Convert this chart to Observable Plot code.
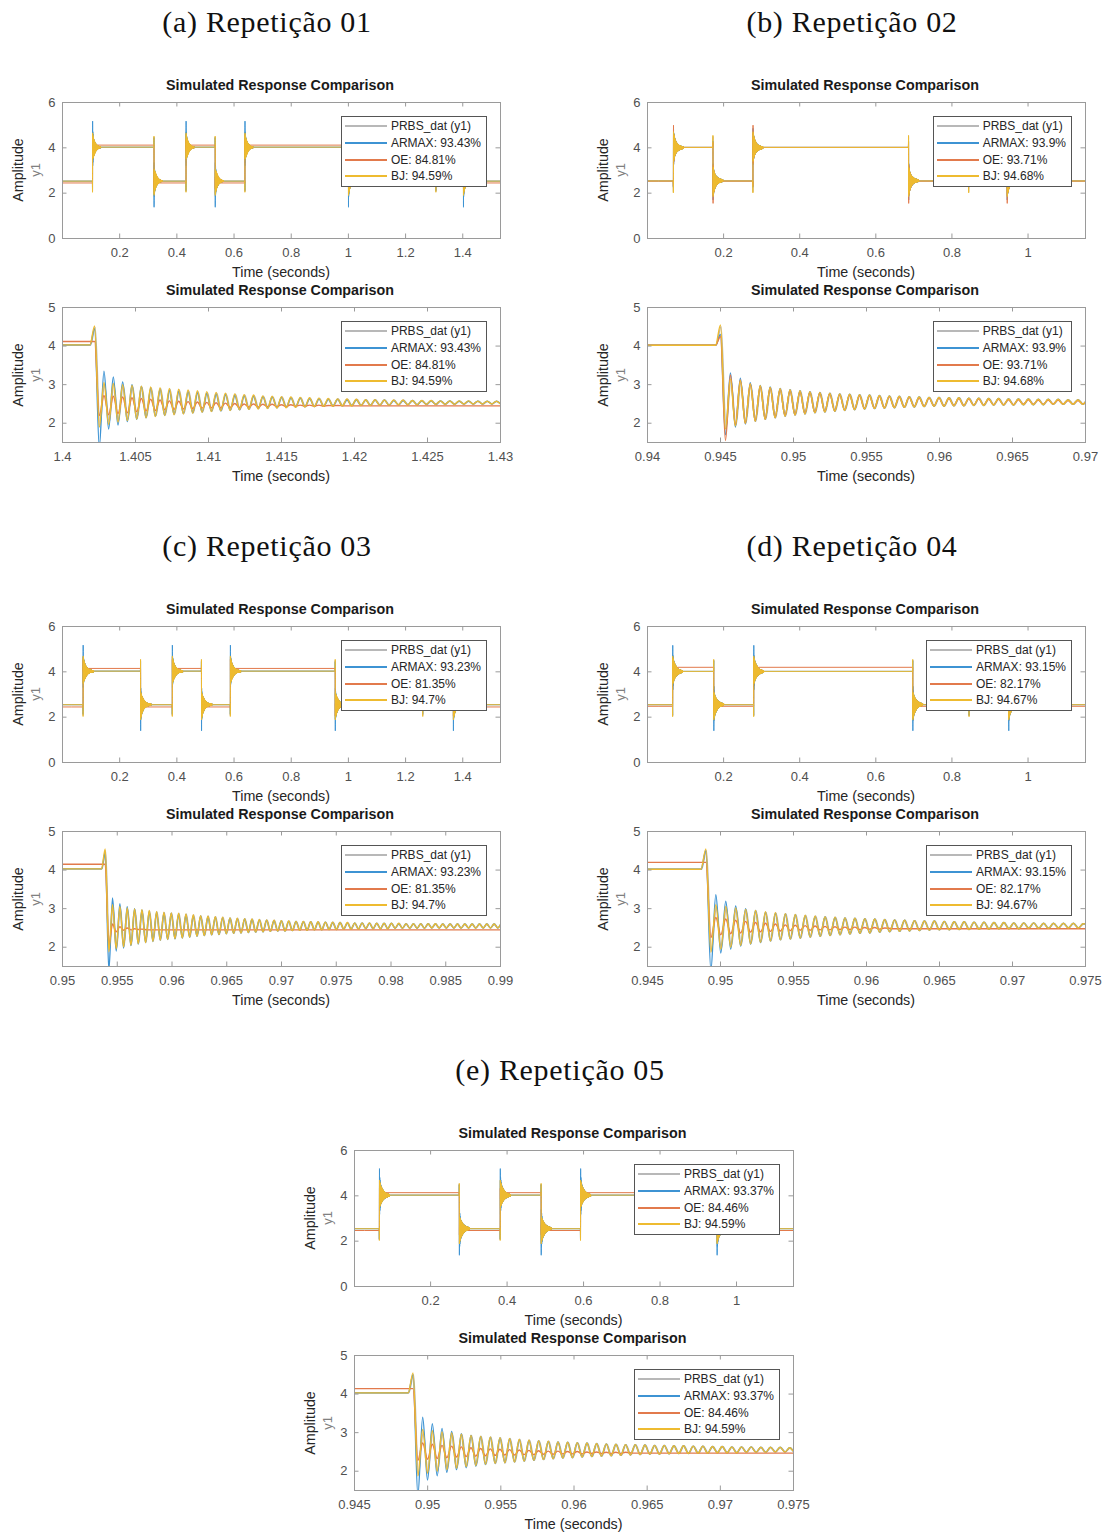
<!DOCTYPE html>
<html><head><meta charset="utf-8">
<script src="https://cdn.jsdelivr.net/npm/d3@7"></script>
<script src="https://cdn.jsdelivr.net/npm/@observablehq/plot@0.6"></script>
<style>
body{margin:0;background:#fff;}
#root{position:relative;width:1110px;height:1533px;background:#fff;overflow:hidden;font-family:"Liberation Sans",Arial,sans-serif;}
.abs{position:absolute;white-space:nowrap;line-height:1;}
.c{transform:translate(-50%,-50%);}
.rot{transform:translate(-50%,-50%) rotate(-90deg);}
.head{font-family:"Liberation Serif",serif;font-size:30px;letter-spacing:0.7px;color:#111;}
.ttl{font-weight:bold;font-size:14.3px;color:#1a1a1a;}
.xl{font-size:14.3px;color:#262626;}
.amp{font-size:14.3px;color:#262626;}
.yone{font-size:13px;color:#808080;}
.leg{position:absolute;border:1px solid #555;background:#fff;padding:1px 5px 1px 3px;font-size:12px;color:#262626;line-height:1;}
.leg .row{display:flex;align-items:center;height:16.7px;white-space:nowrap;}
.leg .sw{display:inline-block;width:42px;height:2px;margin-right:4px;}
</style></head><body><div id="root"></div><script>
// ---------- text ----------
const headings = ["(a) Repetição 01","(b) Repetição 02","(c) Repetição 03","(d) Repetição 04","(e) Repetição 05"];
const panelTitle = "Simulated Response Comparison";
const xLabel = "Time (seconds)";
const yLabel = "Amplitude";
const ySubLabel = "y1";
const seriesNames = ["PRBS_dat (y1)","ARMAX","OE","BJ"];
const seriesColors = ["#b8b8b8","#3d93d3","#e27a4c","#eebb30"];
const fitARMAX = ["93.43","93.9","93.23","93.15","93.37"];
const fitOE = ["84.81","93.71","81.35","82.17","84.46"];
const fitBJ = ["94.59","94.68","94.7","94.67","94.59"];

// ---------- axes ----------
const overviewX = [[0,1.532],[0,1.151],[0,1.532],[0,1.151],[0.001,1.149]];
const zoomX = [[1.4,1.43],[0.94,0.97],[0.95,0.99],[0.945,0.975],[0.945,0.975]];
const overviewTicksLong = [0.2,0.4,0.6,0.8,1,1.2,1.4];
const overviewTicksShort = [0.2,0.4,0.6,0.8,1];
const zoomTicks01 = [1.4,1.405,1.41,1.415,1.42,1.425,1.43];
const zoomTicks02 = [0.94,0.945,0.95,0.955,0.96,0.965,0.97];
const zoomTicks03 = [0.95,0.955,0.96,0.965,0.97,0.975,0.98,0.985,0.99];
const zoomTicks04 = [0.945,0.95,0.955,0.96,0.965,0.97,0.975];
const zoomTicks05 = [0.945,0.95,0.955,0.96,0.965,0.97,0.975];
const yDomainTop = [0,6], yTicksTop = [0,2,4,6];
const yDomainZoom = [1.5,5], yTicksZoom = [2,3,4,5];

// ---------- signal data (series order: PRBS_dat, ARMAX, OE, BJ) ----------
const switches01 = [0.105,0.32,0.432,0.534,0.638,1.0,1.306,1.4022];
const switches02 = [0.068,0.172,0.277,0.686,0.844,0.945];
const switches03 = [0.072,0.273,0.384,0.486,0.587,0.9539,1.26,1.367];
const switches04 = [0.066,0.174,0.279,0.697,0.845,0.949];
const switches05 = [0.066,0.275,0.382,0.489,0.592,0.949];
const periods = [0.00064,0.00068,0.00067,0.00068,0.00066];
const seriesLag = [0.00004,0,0,0];

const low01 = [2.53,2.53,2.45,2.53], high01 = [4.02,4.03,4.12,4.03], bump01 = [4.48,4.45,4.12,4.52];
const low02 = [2.54,2.54,2.53,2.54], high02 = [4.02,4.02,4.02,4.02], bump02 = [4.5,4.3,4.25,4.55];
const low03 = [2.55,2.55,2.45,2.55], high03 = [4.03,4.03,4.15,4.03], bump03 = [4.5,4.45,4.15,4.55];
const low04 = [2.55,2.55,2.48,2.55], high04 = [4.02,4.02,4.2,4.02], bump04 = [4.5,4.5,4.2,4.55];
const low05 = [2.55,2.55,2.47,2.55], high05 = [4.03,4.03,4.14,4.03], bump05 = [4.5,4.5,4.14,4.55];

const peaks01 = [
 [3.0,3.0,2.98,2.96,2.94,2.92,2.9,2.88,2.86,2.84,2.82,2.8,2.78,2.76,2.75,2.73,2.72,2.7,2.69,2.68,2.67,2.66,2.65,2.64,2.63,2.63,2.62,2.62,2.61,2.61,2.6,2.6,2.6,2.59,2.59,2.59,2.58,2.58,2.58,2.58,2.58,2.57,2.57,2.57],
 [3.35,3.2,3.07,3.0,2.95,2.91,2.88,2.85,2.83,2.81,2.79,2.77,2.75,2.74,2.72,2.71,2.7,2.69,2.68,2.67,2.66,2.65,2.64,2.63,2.62,2.62,2.61,2.61,2.6,2.6,2.6,2.59,2.59,2.59,2.58,2.58,2.58,2.58,2.57,2.57,2.57,2.57,2.57,2.56],
 [2.72,2.7,2.68,2.66,2.64,2.62,2.6,2.58,2.57,2.56,2.55,2.54,2.53,2.52,2.51,2.5,2.5,2.49,2.49,2.48,2.48,2.47,2.47,2.47,2.46,2.46],
 [3.05,3.03,3.0,2.98,2.96,2.94,2.92,2.9,2.88,2.86,2.84,2.82,2.8,2.78,2.76,2.74,2.73,2.71,2.7,2.69,2.68,2.67,2.66,2.65,2.64,2.63,2.63,2.62,2.61,2.61,2.6,2.6,2.6,2.59,2.59,2.59,2.58,2.58,2.58,2.58,2.57,2.57,2.57,2.57]
];
const troughs01 = [
 [1.95,2.02,2.06,2.1,2.13,2.16,2.19,2.21,2.23,2.25,2.27,2.29,2.31,2.32,2.34,2.35,2.36,2.38,2.39,2.4,2.41,2.42,2.42,2.43,2.44,2.44,2.45,2.45,2.46,2.46,2.47,2.47,2.47,2.48,2.48,2.48,2.48,2.49,2.49,2.49,2.49,2.49,2.5,2.5],
 [1.38,1.85,1.95,2.04,2.1,2.14,2.18,2.2,2.23,2.25,2.27,2.29,2.31,2.32,2.34,2.35,2.37,2.38,2.39,2.4,2.41,2.42,2.43,2.43,2.44,2.45,2.45,2.46,2.46,2.47,2.47,2.47,2.48,2.48,2.48,2.49,2.49,2.49,2.49,2.5,2.5,2.5,2.5,2.5],
 [2.2,2.22,2.25,2.27,2.3,2.32,2.33,2.35,2.36,2.37,2.38,2.39,2.4,2.4,2.41,2.41,2.42,2.42,2.43,2.43,2.43,2.44,2.44,2.44,2.44,2.45],
 [1.9,1.97,2.03,2.07,2.11,2.14,2.17,2.2,2.22,2.24,2.26,2.28,2.3,2.32,2.33,2.35,2.36,2.37,2.38,2.39,2.4,2.41,2.42,2.43,2.44,2.44,2.45,2.45,2.46,2.46,2.47,2.47,2.48,2.48,2.48,2.49,2.49,2.49,2.49,2.5,2.5,2.5,2.5,2.5]
];
const peaks02 = [
 [3.1,3.05,3.0,2.96,2.93,2.9,2.87,2.84,2.82,2.8,2.78,2.76,2.75,2.74,2.73,2.72,2.71,2.7,2.69,2.68,2.67,2.67,2.66,2.66,2.65,2.65,2.64,2.64,2.63,2.63,2.63,2.62,2.62,2.62,2.61,2.61,2.61,2.6],
 [3.3,3.17,3.05,2.98,2.94,2.9,2.87,2.84,2.82,2.8,2.78,2.76,2.75,2.74,2.73,2.72,2.71,2.7,2.69,2.68,2.67,2.67,2.66,2.66,2.65,2.65,2.64,2.64,2.63,2.63,2.63,2.62,2.62,2.62,2.61,2.61,2.61,2.6],
 [3.25,3.12,3.02,2.96,2.92,2.88,2.85,2.82,2.8,2.78,2.76,2.74,2.73,2.72,2.71,2.7,2.69,2.68,2.67,2.66,2.65,2.65,2.64,2.64,2.63,2.63,2.62,2.62,2.61,2.61,2.61,2.6,2.6,2.6,2.59,2.59,2.59,2.58],
 [3.15,3.1,3.02,2.97,2.93,2.9,2.87,2.84,2.82,2.8,2.78,2.76,2.75,2.74,2.73,2.72,2.71,2.7,2.69,2.68,2.67,2.67,2.66,2.66,2.65,2.65,2.64,2.64,2.63,2.63,2.63,2.62,2.62,2.62,2.61,2.61,2.61,2.6]
];
const troughs02 = [
 [1.9,1.95,2.0,2.05,2.1,2.14,2.18,2.21,2.24,2.27,2.29,2.31,2.33,2.35,2.37,2.38,2.39,2.4,2.41,2.42,2.43,2.44,2.44,2.45,2.45,2.46,2.46,2.47,2.47,2.47,2.48,2.48,2.48,2.49,2.49,2.49,2.49,2.5],
 [1.7,1.9,1.98,2.05,2.1,2.14,2.18,2.21,2.24,2.27,2.29,2.31,2.33,2.35,2.37,2.38,2.39,2.4,2.41,2.42,2.43,2.44,2.44,2.45,2.45,2.46,2.46,2.47,2.47,2.47,2.48,2.48,2.48,2.49,2.49,2.49,2.49,2.5],
 [1.55,1.95,2.0,2.06,2.11,2.15,2.19,2.22,2.25,2.28,2.3,2.32,2.34,2.36,2.38,2.39,2.4,2.41,2.42,2.43,2.44,2.45,2.45,2.46,2.46,2.47,2.47,2.48,2.48,2.48,2.49,2.49,2.49,2.5,2.5,2.5,2.5,2.5],
 [1.85,1.93,2.0,2.05,2.1,2.14,2.18,2.21,2.24,2.27,2.29,2.31,2.33,2.35,2.37,2.38,2.39,2.4,2.41,2.42,2.43,2.44,2.44,2.45,2.45,2.46,2.46,2.47,2.47,2.47,2.48,2.48,2.48,2.49,2.49,2.49,2.49,2.5]
];
const peaks03 = [
 [3.05,3.03,3.0,2.98,2.96,2.94,2.92,2.9,2.89,2.88,2.86,2.84,2.82,2.81,2.79,2.78,2.76,2.75,2.74,2.73,2.72,2.71,2.7,2.69,2.68,2.67,2.67,2.66,2.66,2.65,2.65,2.64,2.64,2.63,2.63,2.63,2.62,2.62,2.62,2.62,2.61,2.61,2.61,2.61,2.61,2.6,2.6,2.6,2.6,2.6,2.6,2.6,2.6,2.6],
 [3.28,3.13,3.05,3.0,2.96,2.93,2.91,2.89,2.88,2.86,2.84,2.82,2.81,2.79,2.78,2.76,2.75,2.74,2.73,2.72,2.71,2.7,2.69,2.68,2.67,2.67,2.66,2.66,2.65,2.65,2.64,2.64,2.63,2.63,2.63,2.62,2.62,2.62,2.62,2.61,2.61,2.61,2.61,2.61,2.6,2.6,2.6,2.6,2.6,2.6,2.6,2.6,2.6,2.6],
 [2.6,2.53,2.5,2.48,2.47],
 [3.1,3.06,3.02,2.99,2.97,2.95,2.93,2.91,2.89,2.88,2.86,2.84,2.82,2.81,2.79,2.78,2.76,2.75,2.74,2.73,2.72,2.71,2.7,2.69,2.68,2.67,2.67,2.66,2.66,2.65,2.65,2.64,2.64,2.63,2.63,2.63,2.62,2.62,2.62,2.62,2.61,2.61,2.61,2.61,2.61,2.6,2.6,2.6,2.6,2.6,2.6,2.6,2.6,2.6]
];
const troughs03 = [
 [1.92,1.98,2.02,2.06,2.1,2.13,2.16,2.18,2.2,2.22,2.24,2.26,2.28,2.3,2.32,2.33,2.35,2.36,2.37,2.38,2.39,2.4,2.41,2.42,2.42,2.43,2.44,2.44,2.45,2.45,2.46,2.46,2.47,2.47,2.47,2.48,2.48,2.48,2.48,2.49,2.49,2.49,2.49,2.49,2.5,2.5,2.5,2.5,2.5,2.5,2.5,2.5,2.5,2.5],
 [1.4,1.9,1.98,2.04,2.08,2.12,2.15,2.18,2.2,2.22,2.24,2.26,2.28,2.3,2.32,2.33,2.35,2.36,2.37,2.38,2.39,2.4,2.41,2.42,2.42,2.43,2.44,2.44,2.45,2.45,2.46,2.46,2.47,2.47,2.47,2.48,2.48,2.48,2.48,2.49,2.49,2.49,2.49,2.49,2.5,2.5,2.5,2.5,2.5,2.5,2.5,2.5,2.5,2.5],
 [2.05,2.4,2.44,2.45,2.46],
 [1.88,1.96,2.01,2.05,2.09,2.12,2.15,2.18,2.2,2.22,2.24,2.26,2.28,2.3,2.32,2.33,2.35,2.36,2.37,2.38,2.39,2.4,2.41,2.42,2.42,2.43,2.44,2.44,2.45,2.45,2.46,2.46,2.47,2.47,2.47,2.48,2.48,2.48,2.48,2.49,2.49,2.49,2.49,2.49,2.5,2.5,2.5,2.5,2.5,2.5,2.5,2.5,2.5,2.5]
];
const peaks04 = [
 [3.05,3.03,3.0,2.97,2.94,2.91,2.89,2.87,2.85,2.83,2.81,2.79,2.78,2.76,2.75,2.74,2.73,2.72,2.71,2.7,2.69,2.68,2.68,2.67,2.66,2.66,2.65,2.65,2.64,2.64,2.63,2.63,2.63,2.62,2.62,2.62,2.62,2.61],
 [3.36,3.19,3.07,3.0,2.95,2.91,2.88,2.86,2.84,2.82,2.8,2.79,2.77,2.76,2.75,2.74,2.73,2.72,2.71,2.7,2.69,2.68,2.68,2.67,2.66,2.66,2.65,2.65,2.64,2.64,2.63,2.63,2.63,2.62,2.62,2.62,2.62,2.61],
 [2.77,2.73,2.7,2.67,2.64,2.62,2.6,2.58,2.57,2.56,2.55,2.54,2.53,2.52,2.52,2.51,2.51,2.5],
 [3.1,3.06,3.02,2.98,2.95,2.92,2.9,2.87,2.85,2.83,2.81,2.79,2.78,2.76,2.75,2.74,2.73,2.72,2.71,2.7,2.69,2.68,2.68,2.67,2.66,2.66,2.65,2.65,2.64,2.64,2.63,2.63,2.63,2.62,2.62,2.62,2.62,2.61]
];
const troughs04 = [
 [1.9,1.97,2.02,2.06,2.1,2.13,2.16,2.19,2.21,2.23,2.26,2.28,2.3,2.32,2.34,2.36,2.37,2.39,2.4,2.41,2.42,2.43,2.44,2.45,2.45,2.46,2.46,2.47,2.47,2.48,2.48,2.48,2.49,2.49,2.49,2.5,2.5,2.5],
 [1.4,1.85,1.95,2.03,2.08,2.12,2.16,2.19,2.21,2.23,2.26,2.28,2.3,2.32,2.34,2.36,2.37,2.39,2.4,2.41,2.42,2.43,2.44,2.45,2.45,2.46,2.46,2.47,2.47,2.48,2.48,2.48,2.49,2.49,2.49,2.5,2.5,2.5],
 [2.25,2.32,2.35,2.37,2.39,2.4,2.41,2.42,2.43,2.44,2.44,2.45,2.45,2.46,2.46,2.46,2.47,2.47],
 [1.87,1.95,2.0,2.05,2.09,2.13,2.16,2.19,2.21,2.23,2.26,2.28,2.3,2.32,2.34,2.36,2.37,2.39,2.4,2.41,2.42,2.43,2.44,2.45,2.45,2.46,2.46,2.47,2.47,2.48,2.48,2.48,2.49,2.49,2.49,2.5,2.5,2.5]
];
const peaks05 = [
 [3.02,3.02,3.0,2.98,2.95,2.93,2.91,2.89,2.87,2.85,2.83,2.81,2.79,2.78,2.76,2.75,2.74,2.73,2.72,2.71,2.7,2.69,2.69,2.68,2.67,2.67,2.66,2.66,2.65,2.65,2.64,2.64,2.63,2.63,2.63,2.62,2.62,2.62,2.61,2.61],
 [3.4,3.23,3.11,3.03,2.97,2.93,2.9,2.88,2.86,2.84,2.82,2.8,2.79,2.77,2.76,2.75,2.74,2.73,2.72,2.71,2.7,2.69,2.69,2.68,2.67,2.67,2.66,2.66,2.65,2.65,2.64,2.64,2.63,2.63,2.63,2.62,2.62,2.62,2.61,2.61],
 [2.73,2.7,2.67,2.65,2.63,2.61,2.59,2.58,2.57,2.56,2.55,2.54,2.53,2.52,2.52,2.51,2.51,2.5,2.5,2.49,2.49,2.49],
 [3.08,3.05,3.02,2.99,2.96,2.93,2.91,2.89,2.87,2.85,2.83,2.81,2.79,2.78,2.76,2.75,2.74,2.73,2.72,2.71,2.7,2.69,2.69,2.68,2.67,2.67,2.66,2.66,2.65,2.65,2.64,2.64,2.63,2.63,2.63,2.62,2.62,2.62,2.61,2.61]
];
const troughs05 = [
 [1.9,1.96,2.01,2.05,2.09,2.12,2.15,2.18,2.2,2.22,2.24,2.26,2.28,2.3,2.32,2.34,2.35,2.37,2.38,2.39,2.4,2.41,2.42,2.43,2.44,2.44,2.45,2.46,2.46,2.47,2.47,2.48,2.48,2.48,2.49,2.49,2.49,2.5,2.5,2.5],
 [1.38,1.77,1.88,1.97,2.04,2.09,2.13,2.17,2.2,2.22,2.24,2.26,2.28,2.3,2.32,2.34,2.35,2.37,2.38,2.39,2.4,2.41,2.42,2.43,2.44,2.44,2.45,2.46,2.46,2.47,2.47,2.48,2.48,2.48,2.49,2.49,2.49,2.5,2.5,2.5],
 [2.28,2.31,2.33,2.35,2.37,2.38,2.39,2.4,2.41,2.42,2.42,2.43,2.43,2.44,2.44,2.45,2.45,2.45,2.46,2.46,2.46,2.46],
 [1.88,1.95,2.0,2.04,2.08,2.12,2.15,2.18,2.2,2.22,2.24,2.26,2.28,2.3,2.32,2.34,2.35,2.37,2.38,2.39,2.4,2.41,2.42,2.43,2.44,2.44,2.45,2.46,2.46,2.47,2.47,2.48,2.48,2.48,2.49,2.49,2.49,2.5,2.5,2.5]
];

// ---------- assemble ----------
const reps = [
 {switches:switches01, low:low01, high:high01, bump:bump01, peaks:peaks01, troughs:troughs01, zoomTicks:zoomTicks01, ovTicks:overviewTicksLong},
 {switches:switches02, low:low02, high:high02, bump:bump02, peaks:peaks02, troughs:troughs02, zoomTicks:zoomTicks02, ovTicks:overviewTicksShort},
 {switches:switches03, low:low03, high:high03, bump:bump03, peaks:peaks03, troughs:troughs03, zoomTicks:zoomTicks03, ovTicks:overviewTicksLong},
 {switches:switches04, low:low04, high:high04, bump:bump04, peaks:peaks04, troughs:troughs04, zoomTicks:zoomTicks04, ovTicks:overviewTicksShort},
 {switches:switches05, low:low05, high:high05, bump:bump05, peaks:peaks05, troughs:troughs05, zoomTicks:zoomTicks05, ovTicks:overviewTicksShort}
];
reps.forEach((r,i)=>{ r.period = periods[i]; r.ovX = overviewX[i]; r.zX = zoomX[i];
  r.legend = [seriesNames[0], `ARMAX: ${fitARMAX[i]}%`, `OE: ${fitOE[i]}%`, `BJ: ${fitBJ[i]}%`]; });

// layout (pixel geometry)
const cols = {A:[62,500], B:[647,1085], E:[354,793]};
const repCol = ["A","B","A","B","E"];
const repRow = [0,0,1,1,2];
const rowOffset = [0,524,1048];
const headCenter = {A:267, B:852, E:560};

function buildSeries(r, s) {
  const lo = r.low[s], hi = r.high[s], h = r.period/2, lag = seriesLag[s];
  const pk = r.peaks[s], tr = r.troughs[s];
  const bumpDev = r.bump[s] - hi;
  let isHigh = false;
  const pts = [{t:-0.01, v:lo}];
  for (const ts0 of r.switches) {
    const ts = ts0 + lag;
    const high = isHigh;
    const map = v => high ? v : hi - (v - lo);
    pts.push({t: ts - h, v: high ? hi : lo});
    pts.push({t: ts, v: high ? hi + bumpDev : lo - bumpDev});
    const n = Math.max(pk.length, tr.length);
    for (let k = 0; k < n; k++) {
      if (k < tr.length) pts.push({t: ts + h*(2*k+1), v: map(tr[k])});
      if (k < pk.length) pts.push({t: ts + h*(2*k+2), v: map(pk[k])});
    }
    isHigh = !isHigh;
    pts.push({t: ts + h*(2*n+1.5), v: isHigh ? hi : lo});
  }
  pts.push({t: 2, v: isHigh ? hi : lo});
  return pts;
}

const root = document.getElementById("root");
function addText(txt, cls, x, y) {
  const d = document.createElement("div");
  d.className = "abs " + cls;
  d.textContent = txt;
  d.style.left = x + "px"; d.style.top = y + "px";
  root.appendChild(d);
  return d;
}
function addLegend(labels, rightX, topY) {
  const d = document.createElement("div");
  d.className = "leg";
  d.style.right = (1110 - rightX) + "px";
  d.style.top = topY + "px";
  labels.forEach((l, s) => {
    const row = document.createElement("div"); row.className = "row";
    const sw = document.createElement("span"); sw.className = "sw"; sw.style.background = seriesColors[s];
    const tx = document.createElement("span"); tx.textContent = l;
    row.appendChild(sw); row.appendChild(tx); d.appendChild(row);
  });
  root.appendChild(d);
}

const frameColor = "#9a9a9a";
function drawPanel({x0, x1, y0, y1, xDom, yDom, xTicks, yTicks, data, sw}) {
  const mL = 45, mR = 30, mT = 4, mB = 26;
  const w = x1 - x0, h = y1 - y0;
  const lenX = 4.5*(yDom[1]-yDom[0])/h, lenY = 4.5*(xDom[1]-xDom[0])/w;
  const marks = data.map((pts, s) => Plot.line(pts, {x:"t", y:"v", stroke: seriesColors[s], strokeWidth: sw, curve:"monotone-x", clip:true}));
  marks.push(
    Plot.ruleX(xTicks, {x: d=>d, y1: yDom[0], y2: yDom[0]+lenX, stroke: frameColor}),
    Plot.ruleX(xTicks, {x: d=>d, y1: yDom[1]-lenX, y2: yDom[1], stroke: frameColor}),
    Plot.ruleY(yTicks, {y: d=>d, x1: xDom[0], x2: xDom[0]+lenY, stroke: frameColor}),
    Plot.ruleY(yTicks, {y: d=>d, x1: xDom[1]-lenY, x2: xDom[1], stroke: frameColor}),
    Plot.frame({stroke: frameColor})
  );
  const svg = Plot.plot({
    width: w + mL + mR, height: h + mT + mB,
    marginLeft: mL, marginRight: mR, marginTop: mT, marginBottom: mB,
    x: {domain: xDom, ticks: xTicks, tickSize: 0, tickPadding: 9, tickFormat: d => String(d), label: null},
    y: {domain: yDom, ticks: yTicks, tickSize: 0, tickPadding: 7, tickFormat: d => String(d), label: null},
    style: {background:"transparent", fontSize:"13px", fontFamily:"Liberation Sans, Arial, sans-serif", color:"#505050", overflow:"visible"},
    marks
  });
  svg.style.position = "absolute";
  svg.style.left = (x0 - mL) + "px";
  svg.style.top = (y0 - mT) + "px";
  root.appendChild(svg);
}

reps.forEach((r, i) => {
  const [x0, x1] = cols[repCol[i]];
  const off = rowOffset[repRow[i]];
  const data = [0,1,2,3].map(s => buildSeries(r, s));
  addText(headings[i], "head c", headCenter[repCol[i]], 22 + off);
  const frames = [
    {y0: 102 + off, y1: 238 + off, xDom: r.ovX, xTicks: r.ovTicks, yDom: yDomainTop, yTicks: yTicksTop, sw: 1},
    {y0: 307 + off, y1: 442 + off, xDom: r.zX, xTicks: r.zoomTicks, yDom: yDomainZoom, yTicks: yTicksZoom, sw: 1.4}
  ];
  frames.forEach(f => {
    drawPanel({x0, x1, ...f, data});
    const cx = (x0 + x1)/2, cy = (f.y0 + f.y1)/2;
    addText(panelTitle, "ttl c", cx - 1, f.y0 - 17);
    addText(xLabel, "xl c", cx, f.y1 + 34);
    addText(yLabel, "amp rot", x0 - 44, cy);
    addText(ySubLabel, "yone rot", x0 - 27, cy);
    addLegend(r.legend, x1 - 13, f.y0 + 14);
  });
});
</script></body></html>
